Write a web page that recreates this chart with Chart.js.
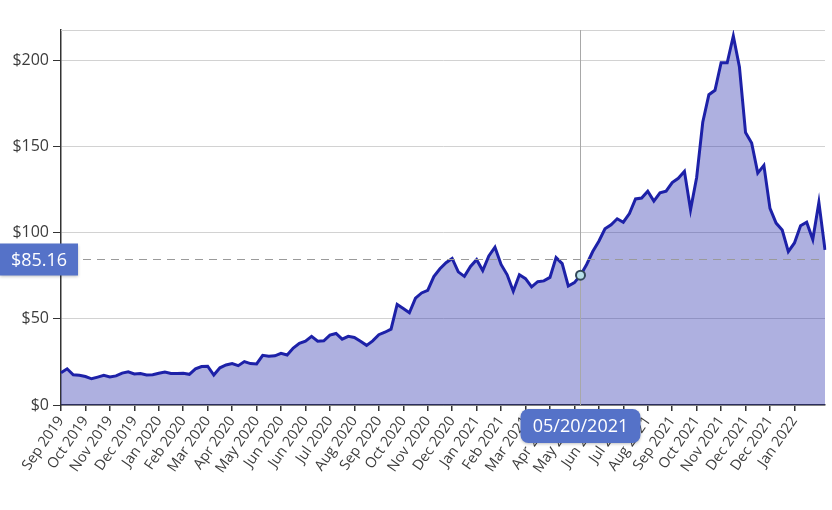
<!DOCTYPE html>
<html>
<head>
<meta charset="utf-8">
<script src="https://cdn.jsdelivr.net/npm/chart.js@4.4.1/dist/chart.umd.min.js"></script>
<style>
  html, body { margin: 0; padding: 0; background: #fff; }
  #wrap { width: 832px; height: 510px; position: relative; }
</style>
</head>
<body>
<div id="wrap"><canvas id="priceChart"></canvas></div>
<script>
/* ==============================
   DATA
============================== */

// month tick labels, one every 4 points
const monthLabels = [
    "Sep 2019", "Oct 2019", "Nov 2019", "Dec 2019", "Jan 2020", "Feb 2020",
    "Mar 2020", "Apr 2020", "May 2020", "Jun 2020", "Jun 2020", "Jul 2020",
    "Aug 2020", "Sep 2020", "Oct 2020", "Nov 2020", "Dec 2020", "Jan 2021",
    "Feb 2021", "Mar 2021", "Apr 2021", "May 2021", "Jun 2021", "Jul 2021",
    "Aug 2021", "Sep 2021", "Oct 2021", "Nov 2021", "Dec 2021", "Dec 2021",
    "Jan 2022"
];
const pointsPerTick = 4;

// closing price
const prices = [
    18.7, 21.0, 17.5, 17.2, 16.5, 15.2, 16.2, 17.2, 16.3, 16.9,
    18.5, 19.2, 18.0, 18.2, 17.4, 17.6, 18.4, 19.1, 18.3, 18.2,
    18.4, 17.8, 21.0, 22.3, 22.5, 17.4, 21.6, 23.2, 24.0, 22.8,
    25.2, 24.0, 23.8, 28.8, 28.3, 28.5, 30.0, 29.0, 33.0, 35.8,
    37.0, 39.8, 37.0, 37.2, 40.5, 41.5, 38.2, 39.8, 39.2, 37.0,
    34.6, 37.2, 40.8, 42.2, 44.0, 58.3, 56.0, 53.5, 62.0, 65.0,
    66.5, 74.5, 79.0, 82.5, 85.0, 77.2, 74.6, 80.4, 84.3, 78.0,
    86.5, 91.5, 81.5, 75.5, 66.0, 75.5, 73.3, 68.5, 71.5, 72.0,
    74.0, 85.5, 82.0, 69.0, 71.0, 75.3, 81.5, 89.0, 95.0, 102.2,
    104.5, 108.0, 106.0, 111.0, 119.5, 120.0, 124.0, 118.3, 123.0, 124.0,
    129.0, 131.5, 135.5, 113.2, 132.0, 164.0, 180.0, 182.5, 198.5, 198.5,
    214.0, 196.0, 158.0, 152.0, 134.5, 139.0, 114.0, 105.5, 101.5, 89.0,
    94.0, 104.0, 106.0, 96.0, 117.5, 90.0
];

const yTickValues = [0, 50, 100, 150, 200];

// cursor state shown in the picture
const cursorIndex = 85;
const cursorDate = "05/20/2021";
const cursorPrice = 85.16;

const xLabels = prices.map((p, i) =>
    i % pointsPerTick === 0 ? (monthLabels[i / pointsPerTick] || "") : ""
);

/* ==============================
   CURSOR + TOP LINE PLUGIN
============================== */

const cursorPlugin = {
    id: "cursor",
    beforeDatasetsDraw(chart) {
        const { ctx, chartArea } = chart;
        ctx.save();
        ctx.strokeStyle = "#d2d2d2";
        ctx.lineWidth = 1;
        ctx.beginPath();
        ctx.moveTo(chartArea.left, chartArea.top + 0.5);
        ctx.lineTo(chartArea.right, chartArea.top + 0.5);
        ctx.stroke();
        ctx.restore();
    },
    afterDraw(chart) {
        const { ctx, chartArea, scales } = chart;
        const x = Math.round(scales.x.getPixelForValue(cursorIndex)) - 0.5;
        const yPrice = Math.round(scales.y.getPixelForValue(cursorPrice)) + 1.5;
        const yPoint = scales.y.getPixelForValue(prices[cursorIndex]);

        ctx.save();

        // vertical crosshair
        ctx.strokeStyle = "#a8a8a8";
        ctx.lineWidth = 1;
        ctx.beginPath();
        ctx.moveTo(x, chartArea.top);
        ctx.lineTo(x, chartArea.bottom);
        ctx.stroke();

        // horizontal dashed line
        ctx.setLineDash([8, 6]);
        ctx.strokeStyle = "#9a9a9a";
        ctx.beginPath();
        ctx.moveTo(83, yPrice);
        ctx.lineTo(chartArea.right, yPrice);
        ctx.stroke();
        ctx.setLineDash([]);

        // point marker
        ctx.beginPath();
        ctx.arc(x, yPoint, 4.5, 0, Math.PI * 2);
        ctx.fillStyle = "#b9e2ea";
        ctx.fill();
        ctx.lineWidth = 2;
        ctx.strokeStyle = "#34495a";
        ctx.stroke();

        // price label on the y axis
        ctx.shadowColor = "rgba(0,0,0,0.25)";
        ctx.shadowBlur = 3;
        ctx.shadowOffsetY = 1;
        ctx.fillStyle = "#5572c8";
        ctx.fillRect(0, yPrice - 16, 78, 32);

        // date label on the x axis
        ctx.beginPath();
        ctx.roundRect(x - 60, chartArea.bottom + 4, 120, 34, 8);
        ctx.fill();

        ctx.shadowColor = "transparent";
        ctx.fillStyle = "#ffffff";
        ctx.font = "18px 'Open Sans'";
        ctx.textAlign = "center";
        ctx.textBaseline = "middle";
        ctx.fillText("$" + cursorPrice.toFixed(2), 39, yPrice + 1);
        ctx.fillText(cursorDate, x, chartArea.bottom + 21.5);

        ctx.restore();
    }
};

/* ==============================
   DRAW CHART
============================== */

const canvas = document.getElementById("priceChart");

new Chart(canvas, {
    type: "line",
    data: {
        labels: xLabels,
        datasets: [{
            data: prices,
            borderColor: "#1d21a8",
            borderWidth: 3,
            backgroundColor: "rgba(31, 35, 168, 0.36)",
            fill: "origin",
            tension: 0,
            pointRadius: 0,
            pointHoverRadius: 0
        }]
    },
    options: {
        responsive: true,
        maintainAspectRatio: false,
        animation: false,
        events: [],
        layout: { padding: { top: 30, right: 7, left: 0, bottom: 0 } },
        plugins: {
            legend: { display: false },
            tooltip: { enabled: false }
        },
        scales: {
            x: {
                offset: false,
                afterFit(scale) { scale.height = 105; },
                border: { display: true, color: "#333", width: 1.5 },
                grid: {
                    drawOnChartArea: false,
                    drawTicks: true,
                    tickLength: 6,
                    tickColor: "#333",
                    lineWidth: 1.5
                },
                ticks: {
                    autoSkip: false,
                    minRotation: 55,
                    maxRotation: 55,
                    padding: 2,
                    color: "#3c3c3c",
                    font: { family: "'Open Sans'", size: 14.5 },
                    callback(value) {
                        const lbl = this.getLabelForValue(value);
                        return lbl === "" ? null : lbl;
                    }
                }
            },
            y: {
                min: 0,
                max: 217.5,
                afterFit(scale) { scale.width = 61; },
                afterBuildTicks(scale) {
                    scale.ticks = yTickValues.map(v => ({ value: v }));
                },
                border: { display: true, color: "#333", width: 1.5 },
                grid: {
                    color: "#d2d2d2",
                    lineWidth: 1,
                    drawTicks: true,
                    tickLength: 8,
                    tickColor: "#333"
                },
                ticks: {
                    padding: 4,
                    color: "#3c3c3c",
                    font: { family: "'Open Sans'", size: 16 },
                    callback: v => "$" + v
                }
            }
        }
    },
    plugins: [cursorPlugin]
});
</script>
</body>
</html>
